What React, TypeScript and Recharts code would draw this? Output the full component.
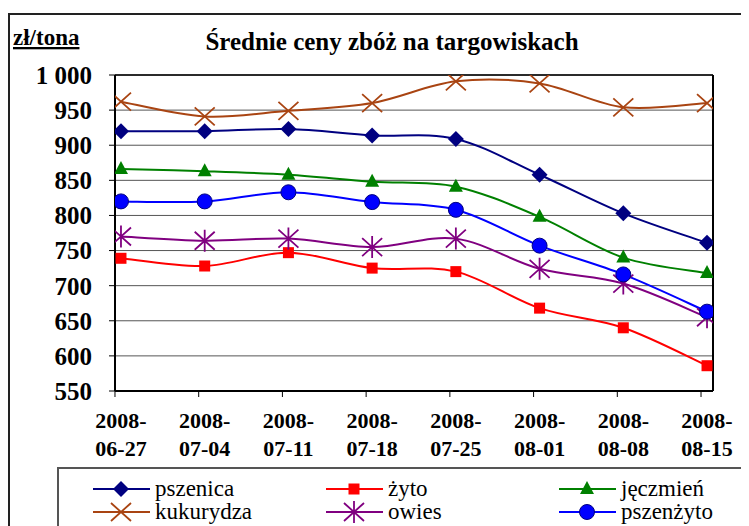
import React from 'react';
import { LineChart, Line, XAxis, YAxis, CartesianGrid, ReferenceLine } from 'recharts';

const dates = ['2008-06-27', '2008-07-04', '2008-07-11', '2008-07-18', '2008-07-25', '2008-08-01', '2008-08-08', '2008-08-15'];
const pszenica = [920, 920, 923, 914, 909, 858, 803, 761];
const zyto = [739, 728, 747, 725, 720, 668, 640, 586];
const jeczmien = [866, 863, 858, 848, 841, 798, 740, 718];
const kukurydza = [962, 941, 949, 960, 991, 988, 954, 960];
const owies = [770, 764, 767, 755, 767, 724, 703, 655];
const pszenzyto = [820, 820, 833, 819, 808, 757, 716, 663];
const yTicks = [550, 600, 650, 700, 750, 800, 850, 900, 950, 1000];
const xTicks = [0, 1, 2, 3, 4, 5, 6, 7];

const series = [
  { key: 'pszenica', name: 'pszenica', color: '#000080', marker: 'diamond', values: pszenica },
  { key: 'zyto', name: 'żyto', color: '#FF0000', marker: 'square', values: zyto },
  { key: 'jeczmien', name: 'jęczmień', color: '#008000', marker: 'triangle', values: jeczmien },
  { key: 'kukurydza', name: 'kukurydza', color: '#A94412', marker: 'x', values: kukurydza },
  { key: 'owies', name: 'owies', color: '#800080', marker: 'star', values: owies },
  { key: 'pszenzyto', name: 'pszenżyto', color: '#0000FF', marker: 'circle', values: pszenzyto },
];

const data = dates.map((d, i) => {
  const row: Record<string, any> = { idx: i, date: d };
  series.forEach((s) => (row[s.key] = s.values[i]));
  return row;
});

const serif = '"Liberation Serif", "Times New Roman", Times, Tinos, "Noto Serif", "DejaVu Serif", FreeSerif, serif';

// Excel-like smoothing (Catmull-Rom through the points)
const excelSmooth = (context: any) => {
  let pts: number[][] = [];
  return {
    areaStart() {},
    areaEnd() {},
    lineStart() {
      pts = [];
    },
    point(x: number, y: number) {
      pts.push([+x, +y]);
    },
    lineEnd() {
      const n = pts.length;
      if (!n) return;
      context.moveTo(pts[0][0], pts[0][1]);
      for (let i = 0; i < n - 1; i++) {
        const p0 = pts[Math.max(i - 1, 0)];
        const p1 = pts[i];
        const p2 = pts[i + 1];
        const p3 = pts[Math.min(i + 2, n - 1)];
        context.bezierCurveTo(
          p1[0] + (p2[0] - p0[0]) / 6,
          p1[1] + (p2[1] - p0[1]) / 6,
          p2[0] - (p3[0] - p1[0]) / 6,
          p2[1] - (p3[1] - p1[1]) / 6,
          p2[0],
          p2[1]
        );
      }
    },
  };
};

const Marker = ({ kind, cx, cy, color }: { kind: string; cx: number; cy: number; color: string }) => {
  switch (kind) {
    case 'diamond':
      return <path d={`M${cx},${cy - 8}L${cx + 8},${cy}L${cx},${cy + 8}L${cx - 8},${cy}Z`} fill={color} />;
    case 'square':
      return <rect x={cx - 5.5} y={cy - 5.5} width={11} height={11} fill={color} />;
    case 'triangle':
      return <path d={`M${cx},${cy - 8}L${cx + 7},${cy + 5}L${cx - 7},${cy + 5}Z`} fill={color} />;
    case 'x':
      return (
        <path
          d={`M${cx - 10},${cy - 9}L${cx + 10},${cy + 9}M${cx - 10},${cy + 9}L${cx + 10},${cy - 9}`}
          stroke={color}
          strokeWidth={1.8}
          fill="none"
        />
      );
    case 'star':
      return (
        <path
          d={`M${cx - 10},${cy - 9}L${cx + 10},${cy + 9}M${cx - 10},${cy + 9}L${cx + 10},${cy - 9}M${cx},${cy - 11}L${cx},${cy + 11}`}
          stroke={color}
          strokeWidth={1.8}
          fill="none"
        />
      );
    default:
      return <circle cx={cx} cy={cy} r={7.5} fill={color} stroke="#000080" strokeWidth={1} />;
  }
};

const DateTick = (props: any) => {
  const { x, y, payload } = props;
  const [yr, m, d] = dates[payload.value].split('-');
  return (
    <g>
      <line x1={x - 6} x2={x - 6} y1={y} y2={y + 6} stroke="#000" />
      <text textAnchor="middle" fill="#000" fontSize={22} fontWeight="bold" style={{ fontFamily: serif }}>
        <tspan x={x} y={y + 37}>{yr}-</tspan>
        <tspan x={x} y={y + 65}>{m}-{d}</tspan>
      </text>
    </g>
  );
};

const legendCols = [85, 318, 551];
const legendRows = [481, 504];

export default function App() {
  return (
    <div style={{ position: 'relative', width: 741, height: 518, overflow: 'hidden', fontFamily: serif }}>
      <div
        style={{
          position: 'absolute',
          left: 0,
          top: 5,
          width: 800,
          height: 600,
          border: '2px solid #222',
          boxSizing: 'border-box',
        }}
      />
      <div style={{ position: 'absolute', left: 0, top: 0 }}>
        <LineChart width={741} height={518} data={data} margin={{ top: 67, right: 36, left: 0, bottom: 75 }}>
          <CartesianGrid vertical={false} stroke="#555" strokeWidth={1} />
          <XAxis
            type="number"
            dataKey="idx"
            domain={[-6 / 84, 7 + 6 / 84]}
            ticks={xTicks}
            interval={0}
            height={60}
            axisLine={{ stroke: '#000', strokeWidth: 2 }}
            tickLine={false}
            tickSize={0}
            tickMargin={0}
            tick={<DateTick />}
            allowDataOverflow
          />
          <YAxis
            domain={[550, 1000]}
            ticks={yTicks}
            interval={0}
            width={107}
            axisLine={{ stroke: '#000', strokeWidth: 2 }}
            tickLine={{ stroke: '#000' }}
            tickSize={6}
            tickMargin={17}
            tick={{ fill: '#000', fontSize: 25, fontWeight: 'bold', style: { fontFamily: serif } }}
            tickFormatter={(v: number) => (v === 1000 ? '1 000' : String(v))}
            allowDataOverflow
          />
          <ReferenceLine y={1000} stroke="#000" strokeWidth={1.5} />
          <ReferenceLine x={7 + 6 / 84} stroke="#000" strokeWidth={2} />
          {series.map((s) => (
            <Line
              key={s.key}
              dataKey={s.key}
              name={s.name}
              stroke={s.color}
              strokeWidth={2}
              type={excelSmooth as any}
              isAnimationActive={false}
              dot={(p: any) => (
                <Marker key={`${s.key}-${p.index}`} kind={s.marker} cx={p.cx} cy={p.cy} color={s.color} />
              )}
              activeDot={false}
            />
          ))}
        </LineChart>
      </div>
      <svg
        width={741}
        height={518}
        style={{ position: 'absolute', left: 0, top: 0, pointerEvents: 'none', fontFamily: serif }}
      >
        <text x={5} y={37} fontSize={23} fontWeight="bold" fill="#000" textDecoration="underline">
          zł/tona
        </text>
        <text x={384} y={42} fontSize={25} fontWeight="bold" fill="#000" textAnchor="middle">
          Średnie ceny zbóż na targowiskach
        </text>
        <rect x={50} y={460} width={760} height={100} fill="#fff" stroke="#555" strokeWidth={2} />
        {series.map((s, i) => {
          const x0 = legendCols[i % 3];
          const y0 = legendRows[Math.floor(i / 3)];
          return (
            <g key={s.key}>
              <line x1={x0} x2={x0 + 57} y1={y0} y2={y0} stroke={s.color} strokeWidth={2} />
              <Marker kind={s.marker} cx={x0 + 28} cy={y0} color={s.color} />
              <text x={x0 + 62} y={y0 + 7} fontSize={23} fill="#000">
                {s.name}
              </text>
            </g>
          );
        })}
      </svg>
    </div>
  );
}
